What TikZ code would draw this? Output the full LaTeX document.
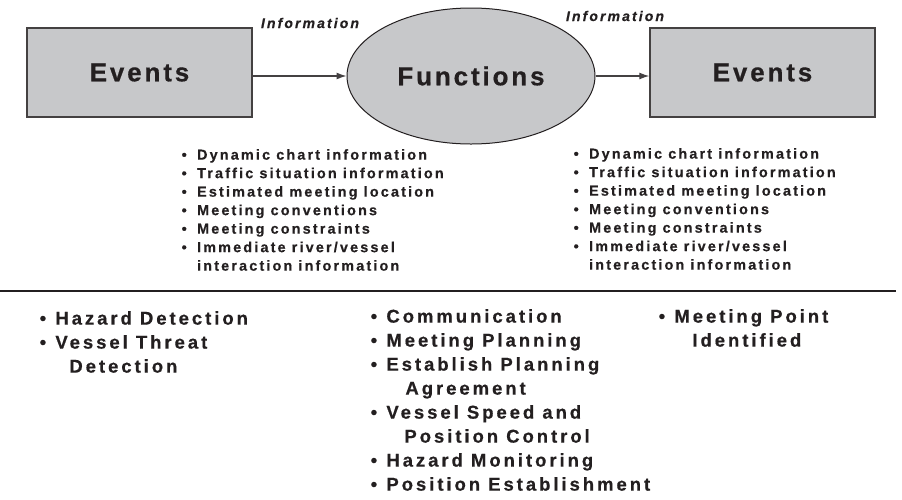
\documentclass[tikz,border=0pt]{standalone}
\usepackage{fontspec}
\setmainfont{Liberation Sans}
\usetikzlibrary{shapes.geometric,arrows.meta}

\definecolor{boxgray}{RGB}{199,200,202}
\definecolor{ink}{RGB}{35,31,32}

\newcommand\bigtxt{\fontsize{26}{30}\selectfont\bfseries\addfontfeature{LetterSpace=11,FakeBold=0.6}}
\newcommand\infotxt{\fontsize{14}{17}\selectfont\bfseries\itshape\addfontfeature{LetterSpace=15,FakeBold=0.5}}
\newcommand\listtxt{\fontsize{14.4}{18.5}\selectfont\bfseries\addfontfeature{LetterSpace=15,FakeBold=0.5}\def\bulsp{0.72em}}
\newcommand\outtxt{\fontsize{18.5}{24}\selectfont\bfseries\addfontfeature{LetterSpace=16,FakeBold=0.5}\def\bulsp{0.5em}}
\newcommand\bul{\textbullet\hspace{\bulsp}}
\newcommand\contin{\hphantom{\bul}}

\tikzset{
	evbox/.style={draw=ink!85, line width=1.4pt, fill=boxgray, minimum width=225pt, minimum height=89pt, inner sep=0pt, text=ink, font=\bigtxt},
	fnell/.style={ellipse, draw=ink, line width=1pt, fill=boxgray, minimum width=248pt, minimum height=136pt, inner sep=0pt, text=ink, font=\bigtxt},
	infolabel/.style={inner sep=0pt, text=ink, font=\infotxt},
	toplist/.style={anchor=north west, align=left, inner sep=0pt, text=ink, font=\listtxt},
	outlist/.style={anchor=north west, align=left, inner sep=0pt, text=ink, font=\outtxt}
}

\begin{document}
\begin{tikzpicture}[x=1pt, y=-1pt, >={Latex[length=10pt,width=7pt]}]
	\useasboundingbox (0,0) rectangle (902,499);
	\def\boxy{72.5}
	\def\rule{291}

	% events, functions, events
	\node[evbox] (evl) at (139.5,\boxy) {Events};
	\node[fnell] (fn) at (471,76) {Functions};
	\node[evbox] (evr) at (762.5,\boxy) {Events};

	% information flow
	\draw[->, line width=1.2pt, ink!85] (evl.east |- fn.west) -- (fn.west);
	\draw[->, line width=1.2pt, ink!85] (fn.east) -- (evr.west |- fn.east);
	\node[infolabel] (info1) at (310,23) {Information};
	\node[infolabel] (info2) at (615,16) {Information};

	% information items
	\node[toplist] (inl) at (181.5,149) {\bul Dynamic chart information\\
		\bul Traffic situation information\\
		\bul Estimated meeting location\\
		\bul Meeting conventions\\
		\bul Meeting constraints\\
		\bul Immediate river/vessel\\
		\contin interaction information};
	\node[toplist] (inr) at (573.5,148) {\bul Dynamic chart information\\
		\bul Traffic situation information\\
		\bul Estimated meeting location\\
		\bul Meeting conventions\\
		\bul Meeting constraints\\
		\bul Immediate river/vessel\\
		\contin interaction information};

	% separator
	\draw[line width=1.4pt, ink] (0,\rule) -- (896,\rule);

	% columns below
	\node[outlist] (det) at (39.5,311) {\bul Hazard Detection\\
		\bul Vessel Threat\\
		\contin\hspace{14pt}Detection};
	\node[outlist] (plan) at (370.5,309) {\bul Communication\\
		\bul Meeting Planning\\
		\bul Establish Planning\\
		\contin\hspace{19pt}Agreement\\
		\bul Vessel Speed and\\
		\contin\hspace{18pt}Position Control\\
		\bul Hazard Monitoring\\
		\bul Position Establishment};
	\node[outlist] (meet) at (658.5,309) {\bul Meeting Point\\
		\contin\hspace{18pt}Identified};
\end{tikzpicture}
\end{document}
